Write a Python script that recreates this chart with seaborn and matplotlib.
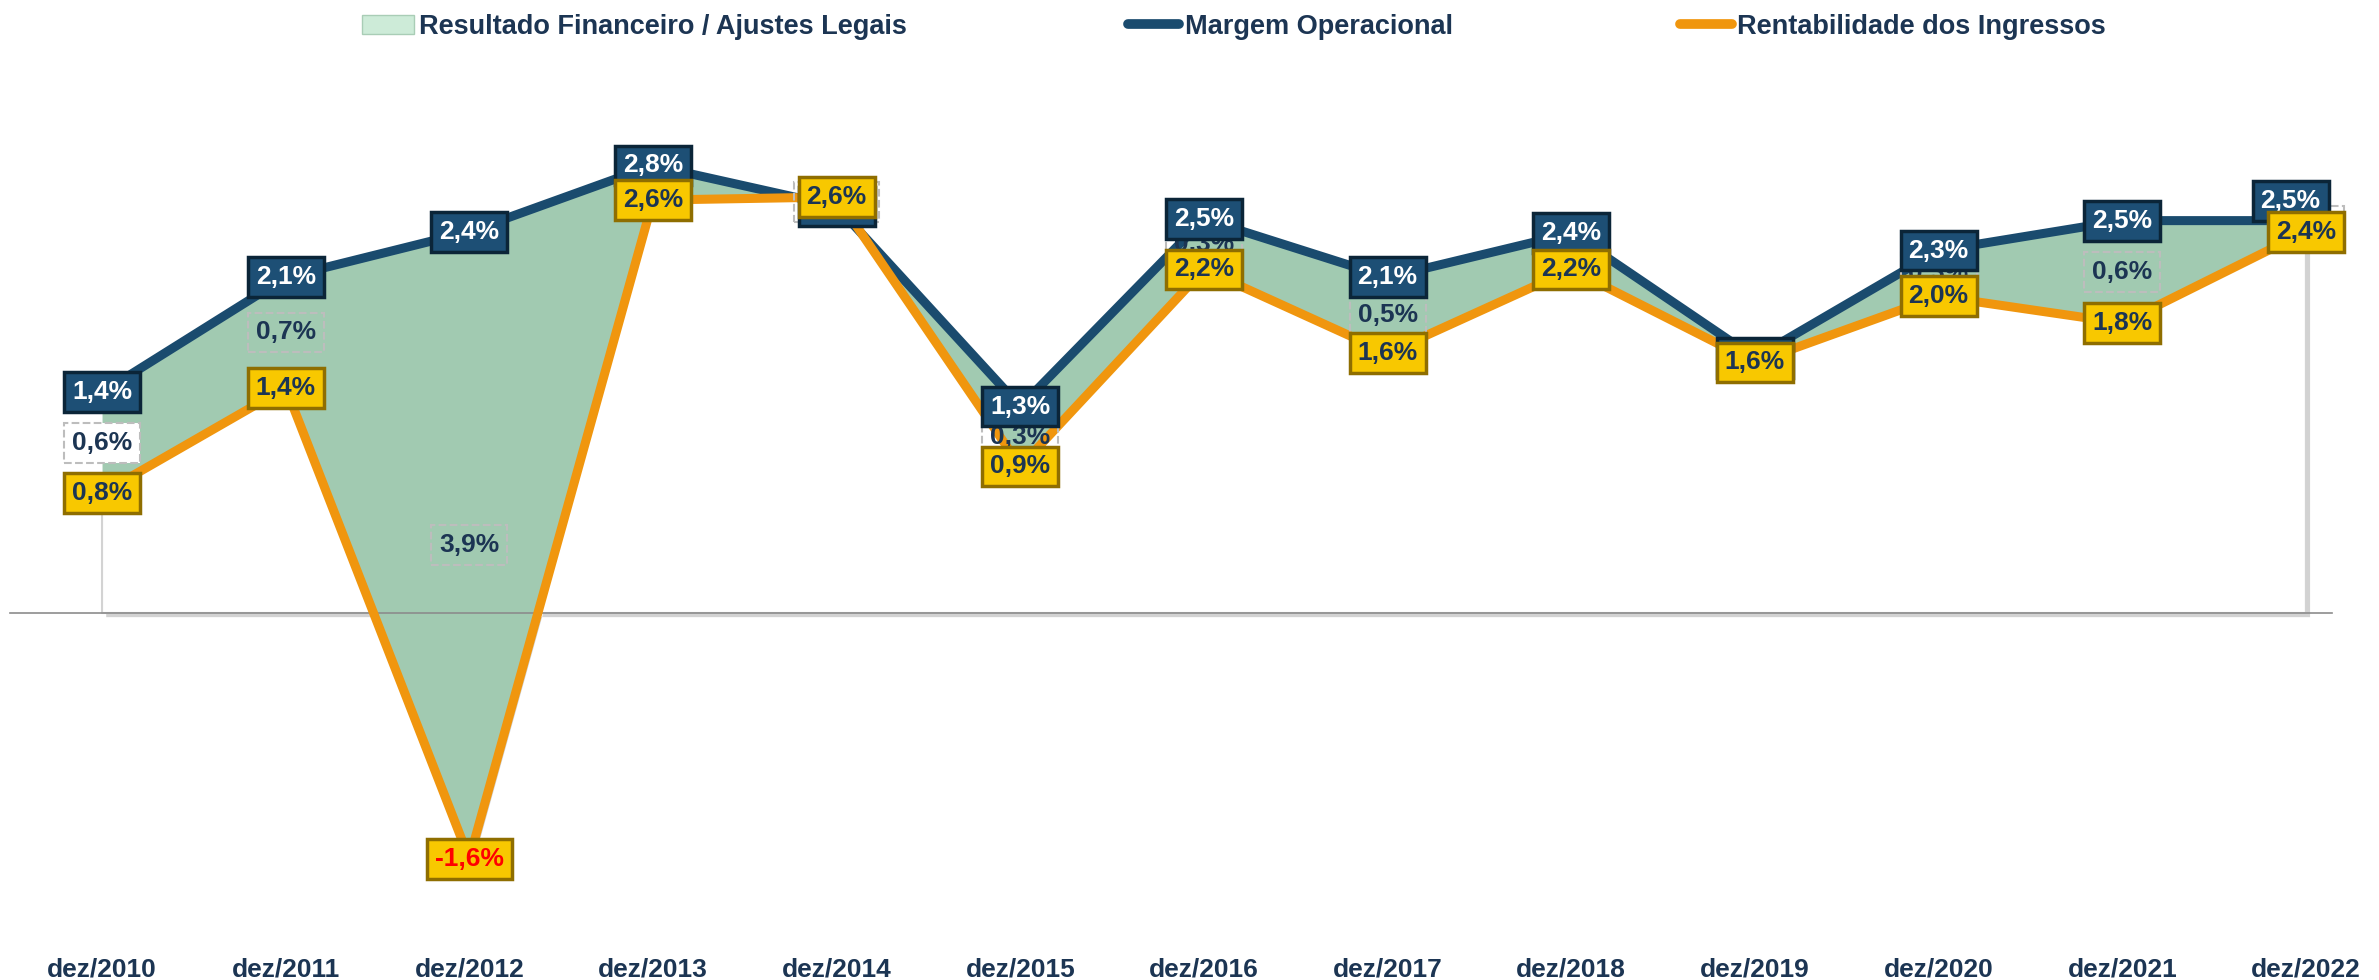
import numpy as np
import pandas as pd
import matplotlib
matplotlib.use("Agg")
import matplotlib.pyplot as plt
import matplotlib.patheffects as pe
from matplotlib.patches import Patch
from matplotlib.lines import Line2D
import seaborn as sns


# data (in %)
categories = ['dez/2010', 'dez/2011', 'dez/2012', 'dez/2013', 'dez/2014', 'dez/2015', 'dez/2016',
              'dez/2017', 'dez/2018', 'dez/2019', 'dez/2020', 'dez/2021', 'dez/2022']
margem = [1.40, 2.13, 2.42, 2.84, 2.58, 1.31, 2.50, 2.13, 2.41, 1.62, 2.30, 2.49, 2.49]
rentab = [0.76, 1.43, -1.56, 2.62, 2.64, 0.93, 2.18, 1.65, 2.18, 1.59, 2.01, 1.84, 2.42]
resultado = [0.6, 0.7, 3.9, 0.2, -0.1, 0.3, 0.3, 0.5, 0.2, 0.0, 0.3, 0.6, 0.1]

legend_labels = ['Resultado Financeiro / Ajustes Legais', 'Margem Operacional', 'Rentabilidade dos Ingressos']

NAVY = '#1A4B6E'
ORANGE = '#F0960E'
GREEN = '#A1CAB1'
TXT = '#1C3553'


def pct(v):
    return f"{v:.1f}".replace('.', ',') + '%'


sns.set_style('white')
plt.rcParams['font.family'] = ['Liberation Sans', 'DejaVu Sans']

fig = plt.figure(figsize=(23.79, 9.8), dpi=100)
ax = fig.add_axes([0.00429, 0.0, 0.9758, 1.0])

x = np.arange(len(categories))
df = pd.DataFrame({'x': x, 'margem': margem, 'rentab': rentab})

# white base area with a soft shadow, then the green band between the two lines
ax.fill_between(df['x'], 0, df['rentab'], facecolor='white', edgecolor='#D3D3D3', lw=1.5, zorder=1,
                path_effects=[pe.SimplePatchShadow(offset=(3, -3), shadow_rgbFace='#808080', alpha=0.35),
                              pe.Normal()])
ax.fill_between(df['x'], df['rentab'], df['margem'], color=GREEN, lw=0, zorder=2)

sns.lineplot(data=df, x='x', y='margem', color=NAVY, lw=6.5, zorder=3, ax=ax, legend=False,
             solid_joinstyle='round')
sns.lineplot(data=df, x='x', y='rentab', color=ORANGE, lw=6.5, zorder=4, ax=ax, legend=False,
             solid_joinstyle='round')

ax.set_xlim(-0.5, 12.14)
ax.set_ylim(-2.329, 3.890)
ax.set_xlabel('')
ax.set_ylabel('')
for s in ['top', 'right', 'left']:
    ax.spines[s].set_visible(False)
ax.spines['bottom'].set_position(('data', 0))
ax.spines['bottom'].set_color('#8C8C8C')
ax.spines['bottom'].set_linewidth(1.2)
ax.spines['bottom'].set_zorder(2.5)
ax.set_xticks(x - 0.5)
ax.tick_params(axis='x', length=8, width=1.2, color='#8C8C8C', direction='out', labelbottom=False)
ax.set_yticks([])

# data labels
box_kw = dict(ha='center', va='center', fontsize=19, fontweight='bold')
for i in range(len(categories)):
    mid = (margem[i] + rentab[i]) / 2
    ax.text(i, mid, pct(resultado[i]), color=TXT, zorder=5,
            bbox=dict(boxstyle='square,pad=0.3', fc='white' if i == 0 else 'none',
                      ec='#BDBDBD', ls='--', lw=1.5), **box_kw)

    dx, dy = (-11, 14) if i == len(categories) - 1 else (0, 0)
    ax.annotate(pct(margem[i]), (i, margem[i]), xytext=(dx, dy), textcoords='offset points',
                color='white', zorder=6,
                bbox=dict(boxstyle='square,pad=0.3', fc='#1D4F75', ec='#0B2538', lw=2.5), **box_kw)

    ax.annotate(pct(rentab[i]), (i, rentab[i]), color='#FF0000' if rentab[i] < 0 else TXT, zorder=7,
                bbox=dict(boxstyle='square,pad=0.3', fc='#F8C800', ec='#8F6E00', lw=2.5), **box_kw)

# category labels along the bottom
for i, cat in enumerate(categories):
    ax.text(i, 4 / 980, cat, transform=ax.get_xaxis_transform(), ha='center', va='baseline',
            fontsize=19, fontweight='bold', color=TXT)

# legend: three entries placed like the original
handles = [Patch(facecolor='#CDEBD8', edgecolor='#A9CDB6'),
           Line2D([], [], color=NAVY, lw=7, solid_capstyle='round'),
           Line2D([], [], color=ORANGE, lw=7, solid_capstyle='round')]
legend_x = [0.1522, 0.4741, 0.7062]
for h, lab, lx in zip(handles, legend_labels, legend_x):
    leg = fig.legend([h], [lab], loc='center left', bbox_to_anchor=(lx, 0.9725), frameon=False,
                     prop={'weight': 'bold', 'size': 19.5}, labelcolor=TXT, handlelength=1.9,
                     handletextpad=0.2, borderpad=0, borderaxespad=0)

fig.savefig('out.png', dpi=100)
